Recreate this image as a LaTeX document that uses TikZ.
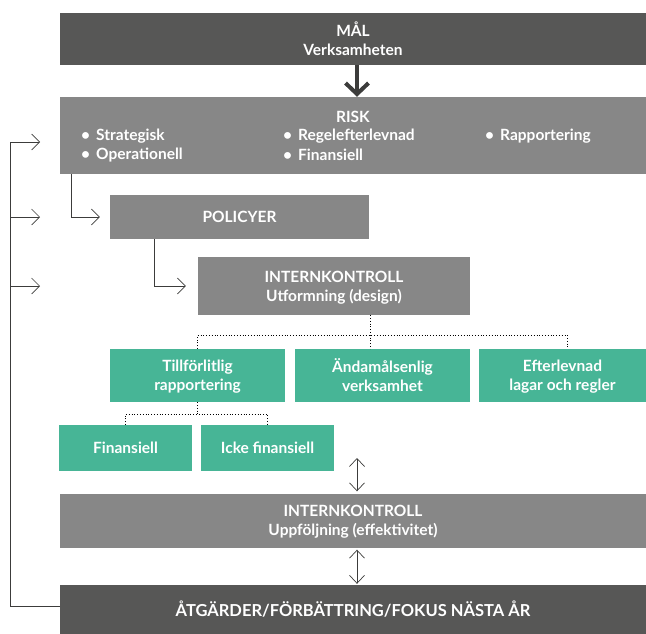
\documentclass[tikz,border=0pt]{standalone}
\usepackage{fontspec}
\setmainfont{Lato}
\usepackage{tikz}
\usetikzlibrary{arrows.meta}
\definecolor{maldark}{HTML}{575756}
\definecolor{riskgray}{HTML}{878787}
\definecolor{okgreen}{HTML}{47B596}
\definecolor{linegray}{HTML}{3C3C3B}
\newcommand{\accstrut}{\vphantom{Å}}

\tikzset{
  boxtext/.style={text=white,font=\bfseries\fontsize{15.5}{19}\selectfont,align=center,inner sep=0pt},
  darkbox/.style={boxtext,fill=maldark,minimum width=586pt},
  graybox/.style={boxtext,fill=riskgray},
  greenbox/.style={boxtext,fill=okgreen},
  plaintext/.style={text=white,font=\bfseries\fontsize{15.5}{19}\selectfont,inner sep=0pt},
  fbline/.style={draw=linegray,line width=0.7pt,-{Straight Barb[length=8pt,width=16pt]}},
  dblarrow/.style={draw=linegray,line width=0.7pt,{Straight Barb[length=8pt,width=15pt]}-{Straight Barb[length=8pt,width=15pt]}},
  dots/.style={draw=black,line width=0.8pt,dotted},
  bigarrow/.style={draw=linegray,line width=4pt,-{Straight Barb[length=11pt,width=23pt]}}
}

\begin{document}
\begin{tikzpicture}[x=1pt,y=-1pt]
 \useasboundingbox (0,0) rectangle (646,634);
 %top
    \node[darkbox,minimum height=52pt] (mal) at (353,39) {MÅL\\Verksamheten};
    \node[graybox,minimum width=586pt,minimum height=77pt] (risk) at (353,135.5) {};
    \node[plaintext] (risktitle) at (353,117) {RISK};
    \node[plaintext,anchor=west] (strat) at (81,136) {•\hspace{6pt}Strategisk};
    \node[plaintext,anchor=west] (oper) at (81,155) {•\hspace{6pt}Operationell};
    \node[plaintext,anchor=west] (regel) at (283,136) {•\hspace{6pt}Regelefterlevnad};
    \node[plaintext,anchor=west] (finrisk) at (283,155) {•\hspace{6pt}Finansiell};
    \node[plaintext,anchor=west] (rapp) at (485,136) {•\hspace{6pt}Rapportering};
    \draw[bigarrow] ([xshift=4pt]mal.south) -- ([xshift=4pt]risk.north);
 %middle
    \node[graybox,minimum width=259pt,minimum height=44pt] (policy) at (239.5,217) {POLICYER};
    \node[graybox,minimum width=272pt,minimum height=58pt] (ikdesign) at (334,286) {\accstrut INTERNKONTROLL\\Utformning (design)};
    \draw[fbline] ([xshift=12pt]risk.south west) |- ([xshift=-10pt]policy.west);
    \draw[fbline] ([xshift=45pt]policy.south west) |- ([xshift=-12pt]ikdesign.west);
 %green boxes
    \node[greenbox,minimum width=175pt,minimum height=53pt] (tillf) at (197.5,375.5) {\accstrut Tillförlitlig\\rapportering};
    \node[greenbox,minimum width=175pt,minimum height=53pt] (andam) at (382.5,375.5) {Ändamålsenlig\\verksamhet};
    \node[greenbox,minimum width=167pt,minimum height=53pt] (efter) at (562.5,375.5) {\accstrut Efterlevnad\\lagar och regler};
    \node[greenbox,minimum width=133pt,minimum height=46pt] (fin) at (125.5,448) {Finansiell};
    \node[greenbox,minimum width=133pt,minimum height=46pt] (icke) at (267.5,448) {Icke finansiell};
    \coordinate (split) at (370,335);
    \coordinate (subsplit) at (197.5,414);
    \draw[dots] (split |- ikdesign.south) -- (split) -- (split |- andam.north);
    \draw[dots] (tillf.north) |- (split) -| ([xshift=4.5pt]efter.north);
    \draw[dots] (tillf.south) -- (subsplit);
    \draw[dots] (fin.north) |- (subsplit) -| (icke.north);
 %bottom
    \node[graybox,minimum width=586pt,minimum height=54pt] (ikfollow) at (353,520.5) {\accstrut INTERNKONTROLL\\Uppföljning (effektivitet)};
    \node[darkbox,minimum height=49pt,font=\bfseries\fontsize{16.5}{19}\selectfont] (atg) at (353,609.5) {ÅTGÄRDER/FÖRBÄTTRING/FOKUS NÄSTA ÅR};
    \coordinate (uptip) at (357,458);
    \draw[dblarrow] (uptip) -- ([xshift=4pt,yshift=2pt]ikfollow.north);
    \draw[dblarrow] ([xshift=4pt,yshift=-2pt]ikfollow.south) -- ([xshift=4pt,yshift=1pt]atg.north);
 %feedback loop
    \coordinate (fbtop) at (10,142);
    \draw[fbline] ([yshift=3pt]atg.west) -| (fbtop) -- ++(30,0);
    \draw[fbline] (fbtop |- policy.west) -- ++(30,0);
    \draw[fbline] (fbtop |- ikdesign.west) -- ++(30,0);
\end{tikzpicture}
\end{document}
